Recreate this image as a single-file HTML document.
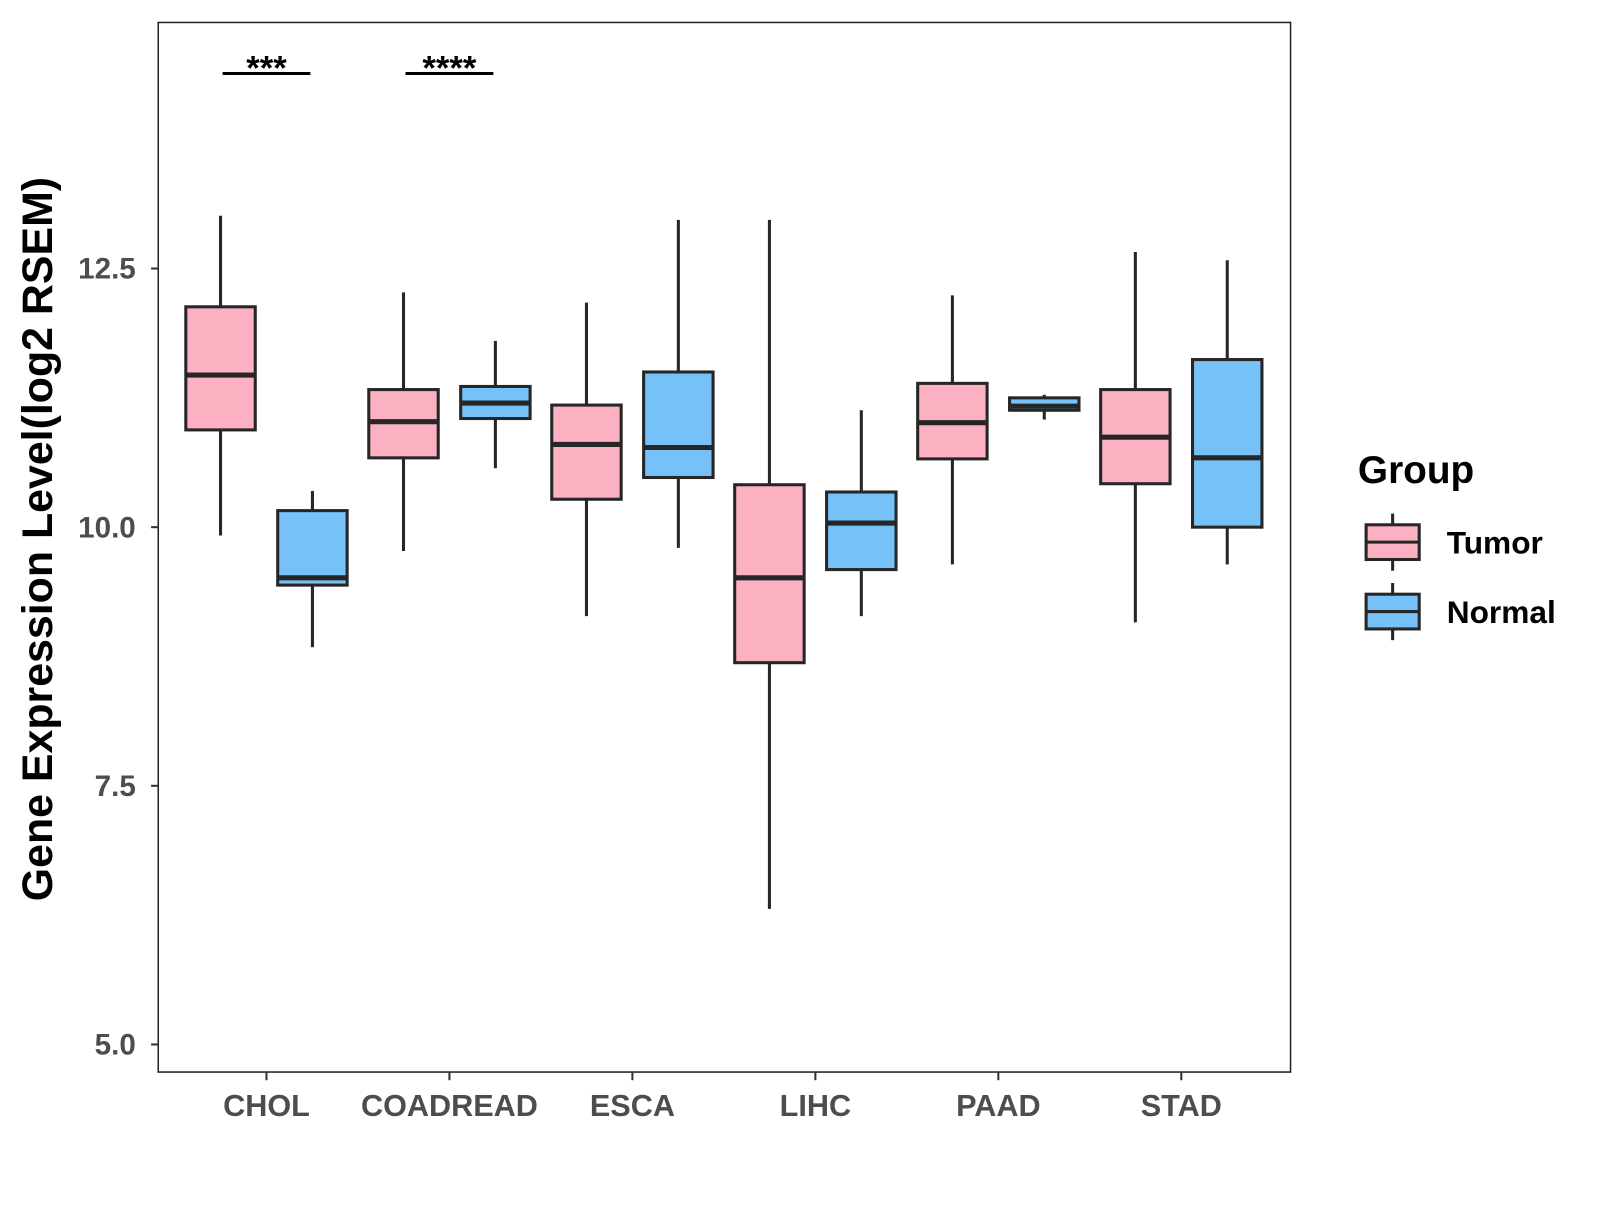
<!DOCTYPE html>
<html><head><meta charset="utf-8"><style>
body{margin:0;background:#fff}
svg text{font-family:"Liberation Sans",Arial,sans-serif;font-weight:bold}
</style></head><body>
<svg id="chart" width="1600" height="1200" viewBox="0 0 1600 1200">
<rect x="0" y="0" width="1600" height="1200" fill="#fff"/>
<g id="plot" transform="scale(1.021)"></g>
</svg>
<script>
const categories=["CHOL","COADREAD","ESCA","LIHC","PAAD","STAD"];
const tumorLow=[9.92,9.77,9.14,6.31,9.64,9.08];
const tumorQ1=[10.94,10.67,10.27,8.69,10.66,10.42];
const tumorMed=[11.47,11.02,10.80,9.51,11.01,10.87];
const tumorQ3=[12.13,11.33,11.18,10.41,11.39,11.33];
const tumorHigh=[13.01,12.27,12.17,12.97,12.24,12.66];
const normalLow=[8.84,10.57,9.80,9.14,11.04,9.64];
const normalQ1=[9.44,11.05,10.48,9.59,11.13,10.0];
const normalMed=[9.51,11.20,10.77,10.04,11.17,10.67];
const normalQ3=[10.16,11.36,11.50,10.34,11.25,11.62];
const normalHigh=[10.35,11.80,12.97,11.13,11.28,12.58];
const yTicks=[5.0,7.5,10.0,12.5];
const yTickLabels=["5.0","7.5","10.0","12.5"];
const sigCategories=["CHOL","COADREAD"];
const sigLabels=["***","****"];

const NS="http://www.w3.org/2000/svg";
const g=document.getElementById("plot");
const L=155,R=1264,T=22,B=1050;
function y(v){return 263+(12.5-v)*101.33;}
function x(i){return 261+i*179.2;}
function mk(tag,attrs,parent){const e=document.createElementNS(NS,tag);for(const k in attrs)e.setAttribute(k,attrs[k]);(parent||g).appendChild(e);return e;}

const panel=mk("rect",{x:L,y:T,width:R-L,height:B-T,fill:"none",stroke:"#222","stroke-width":1.5});



yTicks.forEach((v,i)=>{
  const tk=mk("line",{x1:L-7,x2:L,y1:y(v),y2:y(v),stroke:"#333","stroke-width":2});
  
  
  const t=mk("text",{x:L-22,y:y(v)+10,"text-anchor":"end","font-size":29,fill:"#4d4d4d"});
  t.textContent=yTickLabels[i];
  
  
});
categories.forEach((c,i)=>{
  const tk=mk("line",{x1:x(i),x2:x(i),y1:B,y2:B+8,stroke:"#333","stroke-width":2});
  
  
  const t=mk("text",{x:x(i),y:1093,"text-anchor":"middle","font-size":30,fill:"#4d4d4d"});
  t.textContent=c;
  
  
});

function box(cx,lo,q1,md,q3,hi,fill,name){
  const grp=mk("g",{});
  
  
  mk("line",{x1:cx,x2:cx,y1:y(hi),y2:y(q3),stroke:"#262626","stroke-width":3},grp);
  mk("line",{x1:cx,x2:cx,y1:y(q1),y2:y(lo),stroke:"#262626","stroke-width":3},grp);
  mk("rect",{x:cx-34,y:y(q3),width:68,height:y(q1)-y(q3),fill:fill,stroke:"#262626","stroke-width":3},grp);
  mk("line",{x1:cx-34,x2:cx+34,y1:y(md),y2:y(md),stroke:"#262626","stroke-width":5},grp);
}
categories.forEach((c,i)=>{
  box(x(i)-45,tumorLow[i],tumorQ1[i],tumorMed[i],tumorQ3[i],tumorHigh[i],"#FCB1C3","box-tumor-"+c.toLowerCase());
  box(x(i)+45,normalLow[i],normalQ1[i],normalMed[i],normalQ3[i],normalHigh[i],"#76C1F8","box-normal-"+c.toLowerCase());
});

sigCategories.forEach((c,k)=>{
  const i=categories.indexOf(c);
  const ln=mk("line",{x1:x(i)-43,x2:x(i)+43,y1:72,y2:72,stroke:"#000","stroke-width":3});
  
  
  const t=mk("text",{x:x(i),y:78,"text-anchor":"middle","font-size":34,fill:"#000"});
  t.textContent=sigLabels[k];
  
  
});

const yt=mk("text",{x:0,y:0,transform:"translate(51,528) rotate(-90)","text-anchor":"middle","font-size":42,fill:"#000"});
yt.textContent="Gene Expression Level(log2 RSEM)";



const lt=mk("text",{x:1330,y:473,"font-size":38,fill:"#000"});
lt.textContent="Group";


[["Tumor","#FCB1C3",531],["Normal","#76C1F8",599]].forEach(([lab,fill,cy])=>{
  const grp=mk("g",{});
  
  
  mk("line",{x1:1364,x2:1364,y1:cy-28,y2:cy+28,stroke:"#262626","stroke-width":3},grp);
  mk("rect",{x:1338,y:cy-17,width:52,height:34,fill:fill,stroke:"#262626","stroke-width":3},grp);
  mk("line",{x1:1338,x2:1390,y1:cy,y2:cy,stroke:"#262626","stroke-width":3},grp);
  const t=mk("text",{x:1417,y:cy+11,"font-size":31,fill:"#000"},grp);
  t.textContent=lab;
});
</script>
</body></html>
